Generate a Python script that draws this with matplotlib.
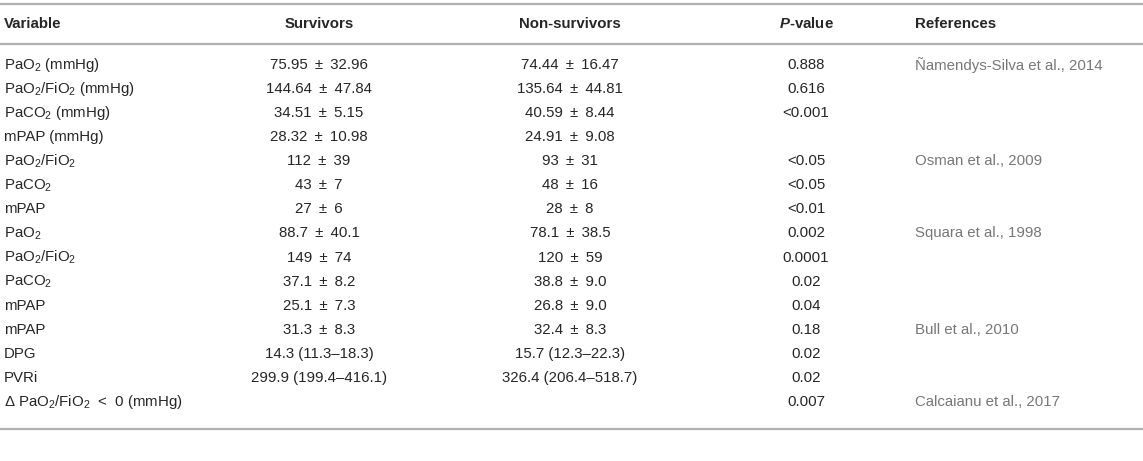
import matplotlib
matplotlib.use("Agg")
import matplotlib.pyplot as plt

plt.rcParams['font.family'] = ['Liberation Sans', 'DejaVu Sans']
plt.rcParams['mathtext.fontset'] = 'custom'
plt.rcParams['mathtext.rm'] = 'Liberation Sans'
plt.rcParams['mathtext.it'] = 'Liberation Sans:italic'
plt.rcParams['mathtext.bf'] = 'Liberation Sans:bold'
plt.rcParams['mathtext.bfit'] = 'Liberation Sans:bold:italic'

# Table content
headers = ["Variable", "Survivors", "Non-survivors", r"$\mathbfit{P}$-value", "References"]

variables = [
    r"PaO$_2$ (mmHg)",
    r"PaO$_2$/FiO$_2$ (mmHg)",
    r"PaCO$_2$ (mmHg)",
    "mPAP (mmHg)",
    r"PaO$_2$/FiO$_2$",
    r"PaCO$_2$",
    "mPAP",
    r"PaO$_2$",
    r"PaO$_2$/FiO$_2$",
    r"PaCO$_2$",
    "mPAP",
    "mPAP",
    "DPG",
    "PVRi",
    r"Δ PaO$_2$/FiO$_2$  <  0 (mmHg)",
]

survivors = [
    "75.95 ± 32.96", "144.64 ± 47.84", "34.51 ± 5.15", "28.32 ± 10.98",
    "112 ± 39", "43 ± 7", "27 ± 6",
    "88.7 ± 40.1", "149 ± 74", "37.1 ± 8.2", "25.1 ± 7.3",
    "31.3 ± 8.3", "14.3 (11.3–18.3)", "299.9 (199.4–416.1)",
    "",
]

non_survivors = [
    "74.44 ± 16.47", "135.64 ± 44.81", "40.59 ± 8.44", "24.91 ± 9.08",
    "93 ± 31", "48 ± 16", "28 ± 8",
    "78.1 ± 38.5", "120 ± 59", "38.8 ± 9.0", "26.8 ± 9.0",
    "32.4 ± 8.3", "15.7 (12.3–22.3)", "326.4 (206.4–518.7)",
    "",
]

p_values = [
    "0.888", "0.616", "<0.001", "",
    "<0.05", "<0.05", "<0.01",
    "0.002", "0.0001", "0.02", "0.04",
    "0.18", "0.02", "0.02",
    "0.007",
]

references = [
    "Ñamendys-Silva et al., 2014", "", "", "",
    "Osman et al., 2009", "", "",
    "Squara et al., 1998", "", "", "",
    "Bull et al., 2010", "", "",
    "Calcaianu et al., 2017",
]

W, H = 1143, 461
fig = plt.figure(figsize=(W / 100, H / 100), dpi=100)
ax = fig.add_axes([0, 0, 1, 1])
ax.set_xlim(0, W)
ax.set_ylim(H, 0)
ax.axis("off")

text_col = "#262626"
ref_col = "#777777"
rule_col = "#b0b0b0"
fs = 10.8


def spaced(s):
    # slightly wider gaps around the plus-minus sign, as in the source
    return s.replace(" ± ", " \u2009±\u2009 ")


# column anchors (x, alignment)
cols = [(4, "left"), (319, "center"), (570, "center"), (806, "center"), (915, "left")]

# rules
for y in (4, 44, 429):
    ax.plot([0, W], [y, y], color=rule_col, lw=1.6, solid_capstyle="butt")

# header
for (x, ha), h in zip(cols, headers):
    ax.text(x, 24, h, ha=ha, va="center", fontsize=fs, fontweight="bold", color=text_col)

# body
y0, dy = 65, 24.07
for i in range(len(variables)):
    y = y0 + i * dy
    row = [variables[i], spaced(survivors[i]), spaced(non_survivors[i]),
           p_values[i], references[i]]
    for j, ((x, ha), s) in enumerate(zip(cols, row)):
        if not s:
            continue
        ax.text(x, y, s, ha=ha, va="center", fontsize=fs,
                color=ref_col if j == 4 else text_col)

fig.savefig("out.png", dpi=100)
